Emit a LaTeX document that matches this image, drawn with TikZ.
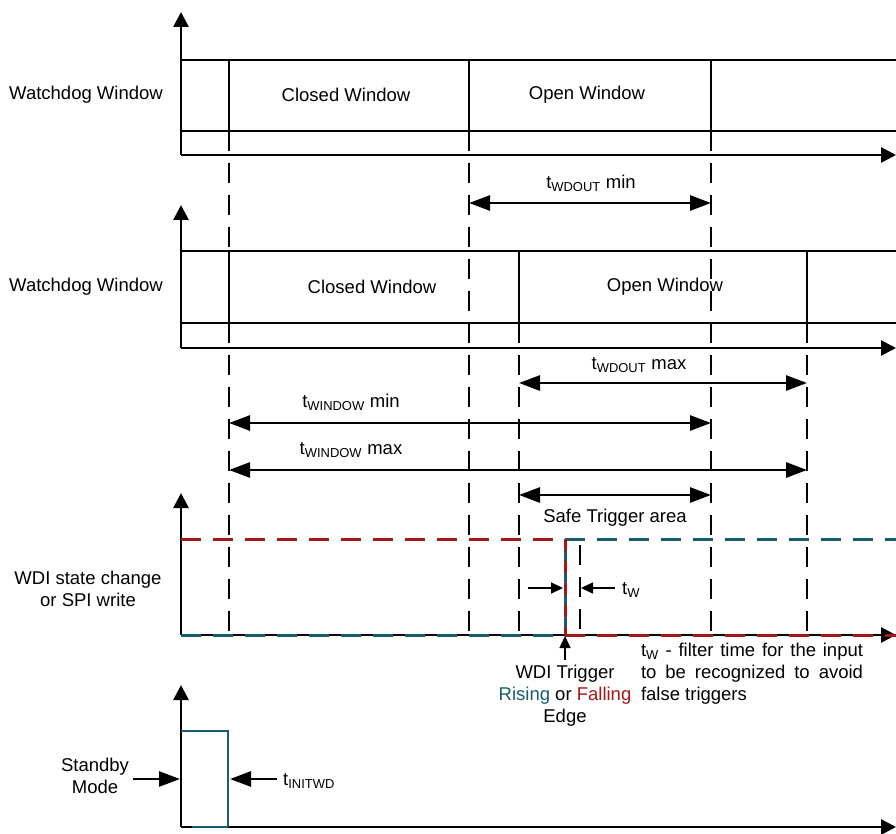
\documentclass[tikz,border=0pt]{standalone}
\usepackage{fontspec}
\setmainfont{Liberation Sans}
\usepackage{xcolor}
\usetikzlibrary{arrows.meta}
\definecolor{wdred}{RGB}{165,22,22}
\definecolor{wdteal}{RGB}{26,92,110}

\begin{document}
\begin{tikzpicture}[x=1pt, y=-1pt,
  font=\fontsize{18.5}{22}\selectfont,
  axis/.style={line width=2.7pt, -{Triangle[length=15pt,width=15pt]}},
  wline/.style={line width=2.7pt},
  guide/.style={line width=2.6pt, dash pattern=on 20pt off 12pt},
  dimarrow/.style={line width=2.7pt, {Triangle[length=21pt,width=15pt]}-{Triangle[length=21pt,width=15pt]}},
  pointer/.style={line width=2.7pt, -{Triangle[length=21pt,width=15pt]}},
  tick/.style={line width=1.5pt, -{Triangle[length=12pt,width=11pt]}},
  sig/.style={line width=3pt, dash pattern=on 20pt off 12pt}]
\useasboundingbox (0,0) rectangle (896,834);

% first watchdog window
\draw[axis] (181,155) -- (181,12);
\draw[axis] (181,155) -- (896,155);
\draw[wline] (181,60) -- (896,60);
\draw[wline] (181,131) -- (896,131);
\draw[wline] (229,60) -- (229,131);
\draw[wline] (469,60) -- (469,131);
\draw[wline] (711,60) -- (711,131);
\node (wd1) at (86,95) {Watchdog Window};
\node (closed1) at (346,95) {Closed Window};
\node (open1) at (587,95) {Open Window};

% second watchdog window
\draw[axis] (181,348) -- (181,205);
\draw[axis] (181,348) -- (896,348);
\draw[wline] (181,251) -- (896,251);
\draw[wline] (181,323) -- (896,323);
\draw[wline] (229,251) -- (229,323);
\draw[wline] (519,251) -- (519,323);
\draw[wline] (807,251) -- (807,323);
\node (wd2) at (86,287) {Watchdog Window};
\node (closed2) at (372,287) {Closed Window};
\node (open2) at (665,287) {Open Window};

% guides
\draw[guide] (229,131) -- (229,635);
\draw[guide] (469,131) -- (469,635);
\draw[guide] (711,131) -- (711,635);
\draw[guide] (519,323) -- (519,635);
\draw[guide] (807,323) -- (807,635);
\draw[guide] (580,545) -- (580,635);

% timings
\coordinate (outminL) at (469,203); \coordinate (outminR) at (711,203);
\coordinate (outmaxL) at (519,383); \coordinate (outmaxR) at (807,383);
\coordinate (winminL) at (229,423); \coordinate (winminR) at (711,423);
\coordinate (winmaxL) at (229,470); \coordinate (winmaxR) at (807,470);
\coordinate (safeL) at (519,495); \coordinate (safeR) at (711,495);
\draw[dimarrow] (outminL) -- (outminR);
\draw[dimarrow] (outmaxL) -- (outmaxR);
\draw[dimarrow] (winminL) -- (winminR);
\draw[dimarrow] (winmaxL) -- (winmaxR);
\draw[dimarrow] (safeL) -- (safeR);
\node (outmin) at (591,183) {t\textsubscript{WDOUT} min};
\node (outmax) at (639,365) {t\textsubscript{WDOUT} max};
\node (winmin) at (351,402) {t\textsubscript{WINDOW} min};
\node (winmax) at (351,450) {t\textsubscript{WINDOW} max};
\node (safe) at (615,518) {Safe Trigger area};

% WDI
\draw[axis] (181,635) -- (181,493);
\draw[axis] (181,635) -- (896,635);
\draw[sig, wdred] (181,539) -- (565,539);
\draw[sig, wdteal] (565,539) -- (896,539);
\draw[line width=3pt, wdteal] (565,539) -- (565,635);
\draw[wdred, line width=3pt, dash pattern=on 12pt off 10pt] (565,539) -- (565,635);
\draw[sig, wdteal] (181,635) -- (565,635);
\draw[sig, wdred] (565,635) -- (896,635);
\coordinate (twL) at (528,588); \coordinate (twLend) at (563,588);
\coordinate (twR) at (615,588); \coordinate (twRend) at (581,588);
\draw[tick] (twL) -- (twLend);
\draw[tick] (twR) -- (twRend);
\node[anchor=west, inner sep=0pt] (tw) at (622,590) {t\textsubscript{W}};
\coordinate (trigtail) at (565,660); \coordinate (trigtip) at (565,636);
\draw[tick] (trigtail) -- (trigtip);
\node (wdi) at (88,589) [align=center] {WDI state change\\or SPI write};
\node (trig) at (565,696) [align=center] {WDI Trigger\\{\color{wdteal}Rising} or {\color{wdred}Falling}\\Edge};
\node (filter) at (752,674) [text width=222pt, align=justify, inner sep=0pt] {t\textsubscript{W} - filter time for the input to be recognized to avoid false triggers};

% standby
\draw[axis] (181,827) -- (181,685);
\draw[axis] (181,827) -- (896,827);
\draw[wdteal, line width=2.7pt] (181,731) -- (228,731) -- (228,827);
\draw[wdteal, line width=2.7pt] (192,827) -- (228,827);
\node (standby) at (95,776) [align=center] {Standby\\Mode};
\coordinate (sbtail) at (133,779); \coordinate (sbtip) at (180,779);
\coordinate (inittail) at (277,779); \coordinate (inittip) at (230,779);
\draw[pointer] (sbtail) -- (sbtip);
\draw[pointer] (inittail) -- (inittip);
\node[anchor=west, inner sep=0pt] (init) at (283,781) {t\textsubscript{INITWD}};
\end{tikzpicture}
\end{document}
